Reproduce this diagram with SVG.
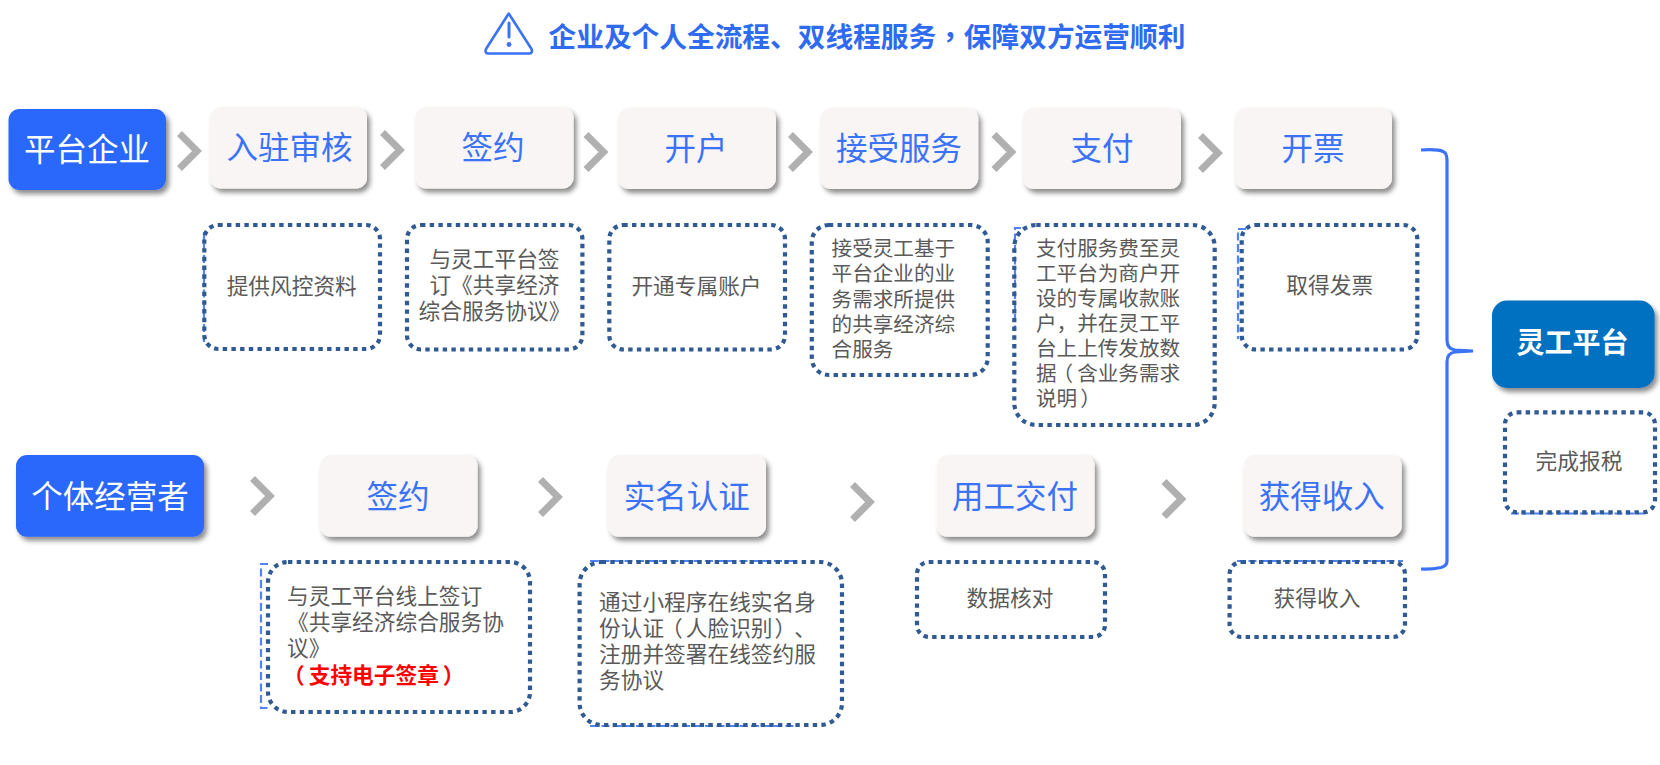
<svg xmlns="http://www.w3.org/2000/svg" width="1660" height="765" viewBox="0 0 1660 765">
<style>
text{font-family:"Noto Sans CJK SC","Noto Sans",sans-serif;text-spacing-trim:space-all;font-feature-settings:"chws" 0}
.step{fill:#f8f5f4;filter:url(#sh)}
.lead{fill:#2c68fc;filter:url(#sh)}
.st{font-size:31.5px;fill:#3a72f8;text-anchor:middle}
.lt{font-size:31.5px;fill:#fff;text-anchor:middle}
.note{fill:none;stroke:#2f5a93;stroke-width:4.2;stroke-dasharray:4.4 4.3}
.blue{fill:none;stroke:#4f83f7;stroke-width:2.2;stroke-dasharray:8 3.5}
.d{font-size:21.7px;fill:#5a5a5a}
.s{font-size:20.6px;fill:#5a5a5a}
.m{text-anchor:middle}
.chev{fill:none;stroke:#b0b0b0;stroke-width:7}
</style>
<defs>
<filter id="sh" x="-15%" y="-20%" width="130%" height="145%"><feDropShadow dx="3" dy="4" stdDeviation="2.5" flood-color="#000" flood-opacity=".45"/></filter>
<path id="cv" d="M2.5 2.5L20 20L2.5 37.5" class="chev"/>
</defs>
<rect width="1660" height="765" fill="#fff"/>
<g id="title">
<path d="M508.700 13.500L486 49Q484.500 53 488 53.500L529.500 53.500Q533 53 531.500 49Z" fill="none" stroke="#3a72f8" stroke-width="2.6" stroke-linejoin="round"/>
<path d="M509 23V37" stroke="#3a72f8" stroke-width="3" stroke-linecap="round"/>
<circle cx="509" cy="44.500" r="2.4" fill="#3a72f8"/>
<text x="548.500" y="47" font-size="27.7px" font-weight="700" fill="#2f6bf0">企业及个人全流程、双线程服务<tspan style="font-family:'Noto Sans CJK TC',sans-serif">，</tspan>保障双方运营顺利</text>
</g>
<g id="connectors">
<use href="#cv" x="177" y="131"/><use href="#cv" x="380" y="130"/><use href="#cv" x="583.500" y="132"/><use href="#cv" x="788" y="132"/><use href="#cv" x="991.500" y="132"/><use href="#cv" x="1198" y="133"/>
<use href="#cv" x="250" y="476"/><use href="#cv" x="538" y="477"/><use href="#cv" x="850" y="482"/><use href="#cv" x="1161.500" y="479"/>
<path id="brace" d="M1421 150Q1438 149 1443 151.500Q1447 153 1447 160V340Q1447 349 1455 350L1473 351L1455 352Q1447 353 1447 362V561Q1447 566 1441 567.500Q1432 569.500 1421 569" fill="none" stroke="#3a72f8" stroke-width="3.2"/>
</g>
<g id="n-platform"><rect class="lead" x="8.500" y="109" width="157.500" height="81" rx="11"/><text class="lt" x="87" y="160.500">平台企业</text></g>
<g id="n-ruzhu"><rect class="step" x="210" y="107" width="157" height="81.500" rx="11"/><text class="st" x="289.500" y="159">入驻审核</text></g>
<g id="n-qianyue"><rect class="step" x="415.500" y="107" width="158" height="81.500" rx="11"/><text class="st" x="493" y="159">签约</text></g>
<g id="n-kaihu"><rect class="step" x="618.300" y="108" width="157.700" height="81" rx="11"/><text class="st" x="696" y="159.500">开户</text></g>
<g id="n-jieshou"><rect class="step" x="820.500" y="108" width="157.700" height="81" rx="11"/><text class="st" x="899" y="159.500">接受服务</text></g>
<g id="n-zhifu"><rect class="step" x="1023" y="108" width="158" height="81" rx="11"/><text class="st" x="1102" y="159.500">支付</text></g>
<g id="n-kaipiao"><rect class="step" x="1235" y="108" width="157" height="81" rx="11"/><text class="st" x="1313" y="159.500">开票</text></g>
<g id="d-ruzhu"><path class="blue" d="M204 232V342"/><rect class="note" x="204.300" y="225" width="175.700" height="124" rx="14"/><text class="d m" x="291.700" y="294">提供风控资料</text></g>
<g id="d-qianyue"><rect class="note" x="407" y="225" width="175.400" height="124.500" rx="14"/><text class="d" x="429.400" y="266.500">与灵工平台签</text><text class="d" x="429.400" y="292.500">订《共享经济</text><text class="d" x="418.500" y="318.500">综合服务协议》</text></g>
<g id="d-kaihu"><rect class="note" x="609.300" y="225" width="175.700" height="124.500" rx="14"/><text class="d m" x="696.500" y="294">开通专属账户</text></g>
<g id="d-jieshou"><rect class="note" x="811.800" y="225" width="175.900" height="150" rx="17"/><text class="s" x="831.600" y="256">接受灵工基于</text><text class="s" x="831.600" y="281.300">平台企业的业</text><text class="s" x="831.600" y="306.600">务需求所提供</text><text class="s" x="831.600" y="331.900">的共享经济综</text><text class="s" x="831.600" y="357.200">合服务</text></g>
<g id="d-zhifu"><path class="blue" d="M1021 228H1015V330"/><rect class="note" x="1014.300" y="225" width="200.400" height="200" rx="22"/><text class="s" x="1036" y="256">支付服务费至灵</text><text class="s" x="1036" y="281">工平台为商户开</text><text class="s" x="1036" y="306">设的专属收款账</text><text class="s" x="1036" y="331">户，并在灵工平</text><text class="s" x="1036" y="356">台上上传发放数</text><text class="s" x="1036" y="381">据<tspan dx="-4">（</tspan><tspan dx="4">含业务需求</tspan></text><text class="s" x="1036" y="406">说明<tspan dx="3">）</tspan></text></g>
<g id="d-kaipiao"><path class="blue" d="M1246 229H1238V339"/><rect class="note" x="1241.700" y="225" width="175.600" height="124.500" rx="14"/><text class="d m" x="1329.700" y="293">取得发票</text></g>
<g id="n-geti"><rect class="lead" x="16" y="455" width="188" height="81.700" rx="11"/><text class="lt" x="110" y="507.500">个体经营者</text></g>
<g id="n-qianyue2"><rect class="step" x="320" y="455" width="157.500" height="81.700" rx="11"/><text class="st" x="398" y="507.500">签约</text></g>
<g id="n-shiming"><rect class="step" x="608" y="455" width="158" height="81.700" rx="11"/><text class="st" x="686.800" y="507.500">实名认证</text></g>
<g id="n-yonggong"><rect class="step" x="936.800" y="455" width="157.800" height="81.700" rx="11"/><text class="st" x="1015" y="507.500">用工交付</text></g>
<g id="n-huode"><rect class="step" x="1244" y="455" width="157.800" height="81.700" rx="11"/><text class="st" x="1321.800" y="507.500">获得收入</text></g>
<g id="d-qianyue2"><path class="blue" d="M268 564H261V708H268"/><rect class="note" x="268" y="562" width="262" height="150" rx="20"/><text class="d" x="287" y="604">与灵工平台线上签订</text><text class="d" x="287" y="630">《共享经济综合服务协</text><text class="d" x="287" y="656">议》</text><text x="287" y="683" font-size="21.7px" font-weight="700" fill="#f00"><tspan dx="-4">（</tspan><tspan dx="4">支持电子签章</tspan><tspan dx="4">）</tspan></text></g>
<g id="d-shiming"><path class="blue" d="M590 561H796M590 726H796"/><rect class="note" x="579.600" y="562" width="262.400" height="163" rx="22"/><text class="d" x="599" y="610">通过小程序在线实名身</text><text class="d" x="599" y="636">份认证<tspan dx="-3">（</tspan><tspan dx="3">人脸识别</tspan><tspan dx="2">）</tspan><tspan dx="-2">、</tspan></text><text class="d" x="599" y="662">注册并签署在线签约服</text><text class="d" x="599" y="688">务协议</text></g>
<g id="d-yonggong"><rect class="note" x="917" y="562" width="188" height="75" rx="12"/><text class="d m" x="1010" y="606">数据核对</text></g>
<g id="d-huode"><path class="blue" d="M1237 561H1403"/><rect class="note" x="1229.600" y="562" width="175.400" height="75" rx="12"/><text class="d m" x="1317" y="606">获得收入</text></g>
<g id="n-lingong"><rect x="1492" y="300.500" width="162.600" height="87.500" rx="15" fill="#0070c0" filter="url(#sh)"/><text x="1572.500" y="352.500" font-size="28px" font-weight="700" fill="#fff" text-anchor="middle">灵工平台</text></g>
<g id="d-lingong"><path class="blue" d="M1511 513.500H1643"/><rect class="note" x="1505" y="412.300" width="150" height="100" rx="12"/><text class="d m" x="1579" y="468.500">完成报税</text></g>
</svg>
